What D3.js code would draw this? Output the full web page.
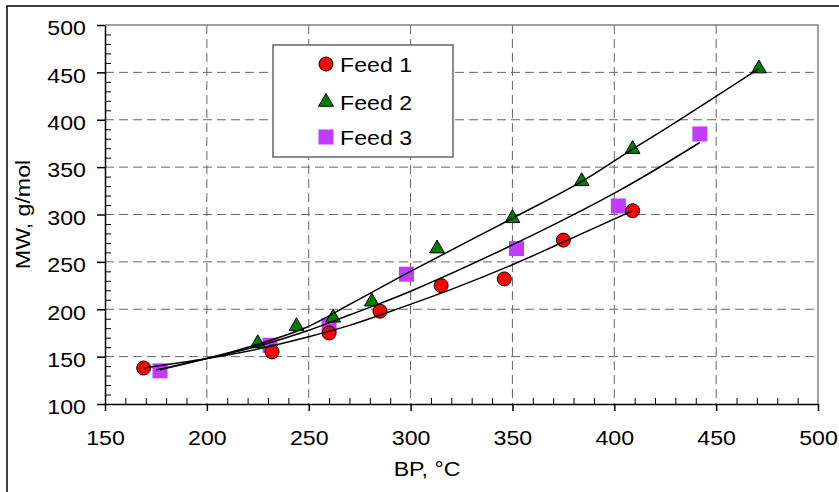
<!DOCTYPE html>
<html>
<head>
<meta charset="utf-8">
<script src="https://cdn.jsdelivr.net/npm/d3@7"></script>
<style>
  body { margin: 0; background: #fff; }
  text { font-family: "Liberation Sans", Arial, sans-serif; }
</style>
</head>
<body>
<svg id="chart" width="839" height="492"></svg>
<script>
// measured points (BP in C, MW in g/mol)
var feed1BP = [169, 232, 260, 285, 315, 346, 375, 409];
var feed1MW = [138, 155, 175, 198, 225, 232, 273, 304];
var feed2BP = [225, 244, 262, 281, 313, 350, 384, 409, 471];
var feed2MW = [164, 182, 191, 208, 264, 296, 335, 369, 454];
var feed3BP = [177, 231, 260, 298, 352, 402, 442];
var feed3MW = [135, 162, 183, 237, 264, 309, 385];

// fitted curves
var fit1BP = [169, 200, 225, 250, 270, 293, 320, 350, 375, 409];
var fit1MW = [138, 148, 158, 171, 183, 200, 221, 247, 271, 304];
var fit2BP = [175, 200, 225, 249, 270, 300, 350, 385, 409, 427, 471];
var fit2MW = [136, 148, 163, 181, 205, 240, 296, 336, 369, 393, 454];
var fit3BP = [177, 200, 225, 249, 270, 280, 300, 352, 403, 442];
var fit3MW = [136, 148, 161, 177, 194, 202, 219, 270, 326, 376];

var seriesNames = ["Feed 1", "Feed 2", "Feed 3"];
var xTicks = [150, 200, 250, 300, 350, 400, 450, 500];
var yTicks = [100, 150, 200, 250, 300, 350, 400, 450, 500];

var svg = d3.select("#chart");
var pLeft = 105, pRight = 818, pTop = 25, pBottom = 404;
var stretch = 1.13; // chart text is a bit wider than plain Arial

var x = d3.scaleLinear().domain([150, 500]).range([pLeft, pRight]);
var y = d3.scaleLinear().domain([100, 500]).range([pBottom, pTop]);

// outer chart frame (cut off on the right and bottom)
svg.append("rect")
  .attr("x", 7).attr("y", 6).attr("width", 900).attr("height", 600)
  .attr("fill", "none").attr("stroke", "#000").attr("stroke-width", 1.5);

// gridlines
var grid = svg.append("g").attr("stroke", "#666").attr("stroke-dasharray", "9,5").attr("stroke-width", 1);
grid.selectAll(".gx").data(xTicks.slice(1, -1)).enter().append("line")
  .attr("x1", function (d) { return x(d); }).attr("x2", function (d) { return x(d); })
  .attr("y1", pTop).attr("y2", pBottom);
grid.selectAll(".gy").data(yTicks.slice(1, -1)).enter().append("line")
  .attr("y1", function (d) { return y(d); }).attr("y2", function (d) { return y(d); })
  .attr("x1", pLeft).attr("x2", pRight);

// plot border top and right
svg.append("path")
  .attr("d", "M" + pLeft + "," + pTop + "H" + pRight + "V" + pBottom)
  .attr("fill", "none").attr("stroke", "#808080").attr("stroke-width", 1.5);

// minor ticks every 10, pointing inside
var xMinor = d3.range(160, 500, 10).filter(function (d) { return d % 50 != 0; });
var yMinor = d3.range(110, 500, 10).filter(function (d) { return d % 50 != 0; });

svg.append("g")
  .attr("transform", "translate(0," + pBottom + ")")
  .call(d3.axisBottom(x).tickValues(xMinor).tickSize(-6).tickSizeOuter(0).tickFormat(""))
  .call(function (g) { g.select(".domain").remove(); });
svg.append("g")
  .attr("transform", "translate(" + pLeft + ",0)")
  .call(d3.axisLeft(y).tickValues(yMinor).tickSize(-6).tickSizeOuter(0).tickFormat(""))
  .call(function (g) { g.select(".domain").remove(); });

// major axes
var baxis = d3.axisBottom(x).tickValues(xTicks).tickSize(7).tickSizeOuter(0).tickPadding(19);
var laxis = d3.axisLeft(y).tickValues(yTicks).tickSize(8).tickSizeOuter(0);

var gx = svg.append("g")
  .attr("transform", "translate(0," + pBottom + ")")
  .call(baxis);
var gy = svg.append("g")
  .attr("transform", "translate(" + pLeft + ",0)")
  .call(laxis);

[gx, gy].forEach(function (g) {
  g.selectAll("line, path").attr("stroke", "#000").attr("stroke-width", 1.5);
  g.selectAll("text").attr("font-size", "20.5px").attr("fill", "#000")
    .attr("font-family", "Liberation Sans, Arial, sans-serif")
    .attr("transform", "scale(" + stretch + ",1)");
});
gy.selectAll("text").attr("x", -19 / stretch).attr("dy", "0.48em");

// axis titles
svg.append("text")
  .attr("transform", "translate(427,476) scale(" + stretch + ",1)")
  .attr("text-anchor", "middle").attr("font-size", "20.5px")
  .text("BP, °C");
svg.append("text")
  .attr("transform", "translate(30," + ((pTop + pBottom) / 2) + ") rotate(-90) scale(" + stretch + ",1)")
  .attr("text-anchor", "middle").attr("font-size", "20.5px")
  .text("MW, g/mol");

// markers
var colors = ["#ff0000", "#008000", "#c03cff"];

function drawMarker(sel, k) {
  if (k == 0) {
    sel.append("circle").attr("r", 7)
      .attr("fill", colors[0]).attr("stroke", "#000").attr("stroke-width", 1);
  } else if (k == 1) {
    sel.append("path").attr("d", d3.symbol().type(d3.symbolTriangle).size(95)())
      .attr("fill", colors[1]).attr("stroke", "#000").attr("stroke-width", 1);
  } else {
    sel.append("path").attr("d", d3.symbol().type(d3.symbolSquare).size(225)())
      .attr("fill", colors[2]);
  }
}

var pointSets = [[feed1BP, feed1MW], [feed2BP, feed2MW], [feed3BP, feed3MW]];
// draw the squares first, then triangles, then circles
[2, 1, 0].forEach(function (k) {
  var bp = pointSets[k][0], mw = pointSets[k][1];
  bp.forEach(function (d, i) {
    var g = svg.append("g").attr("transform", "translate(" + x(d) + "," + y(mw[i]) + ")");
    drawMarker(g, k);
  });
});

// fitted curves on top
var myLine = d3.line()
  .x(function (d) { return x(d[0]); })
  .y(function (d) { return y(d[1]); })
  .curve(d3.curveCatmullRom);

[[fit1BP, fit1MW], [fit2BP, fit2MW], [fit3BP, fit3MW]].forEach(function (f) {
  var pts = f[0].map(function (d, i) { return [d, f[1][i]]; });
  svg.append("path")
    .attr("d", myLine(pts))
    .attr("fill", "none").attr("stroke", "#000").attr("stroke-width", 1.5);
});

// legend
var legend = svg.append("g");
legend.append("rect")
  .attr("x", 273).attr("y", 45).attr("width", 180).attr("height", 112)
  .attr("fill", "#fff").attr("stroke", "#666").attr("stroke-width", 1.5);
var rowY = [64, 102, 137];
seriesNames.forEach(function (name, k) {
  var g = legend.append("g").attr("transform", "translate(326," + rowY[k] + ")");
  drawMarker(g, k);
  legend.append("text")
    .attr("transform", "translate(340," + (rowY[k] + 7.5) + ") scale(" + stretch + ",1)")
    .attr("font-size", "20.5px")
    .text(name);
});
</script>
</body>
</html>
